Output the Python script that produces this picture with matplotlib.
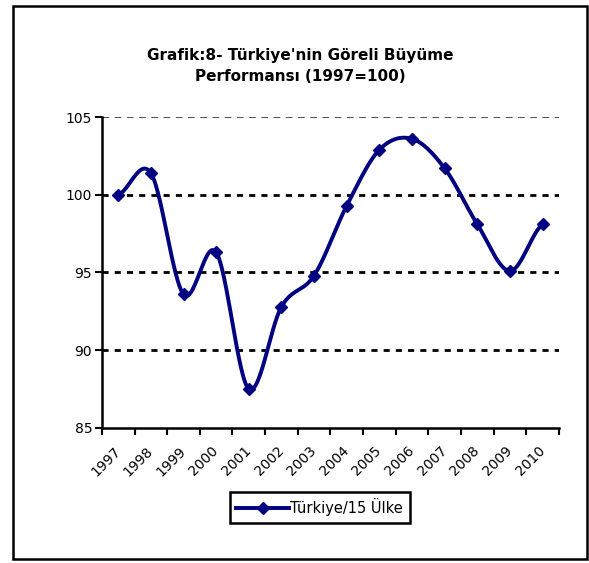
import numpy as np
import matplotlib
matplotlib.use('Agg')
import matplotlib.pyplot as plt
from matplotlib.patches import Rectangle

years = ['1997', '1998', '1999', '2000', '2001', '2002', '2003',
         '2004', '2005', '2006', '2007', '2008', '2009', '2010']
values = [100.0, 101.4, 93.6, 96.3, 87.5, 92.8, 94.8,
          99.3, 102.9, 103.6, 101.7, 98.1, 95.1, 98.1]
series_label = 'Türkiye/15 Ülke'
title = "Grafik:8- Türkiye'nin Göreli Büyüme\nPerformansı (1997=100)"


def smooth_curve(x, y, steps=30):
    # Catmull-Rom style smoothing, like Excel's "smoothed line"
    x = np.asarray(x, float)
    y = np.asarray(y, float)
    px = np.concatenate([[2 * x[0] - x[1]], x, [2 * x[-1] - x[-2]]])
    py = np.concatenate([[y[0]], y, [y[-1]]])
    xs, ys = [], []
    t = np.linspace(0, 1, steps)
    for i in range(1, len(px) - 2):
        p0, p1, p2, p3 = px[i - 1], px[i], px[i + 1], px[i + 2]
        q0, q1, q2, q3 = py[i - 1], py[i], py[i + 1], py[i + 2]
        c1x, c1y = p1 + (p2 - p0) / 6, q1 + (q2 - q0) / 6
        c2x, c2y = p2 - (p3 - p1) / 6, q2 - (q3 - q1) / 6
        b = [(1 - t) ** 3, 3 * (1 - t) ** 2 * t, 3 * (1 - t) * t ** 2, t ** 3]
        xs.append(b[0] * p1 + b[1] * c1x + b[2] * c2x + b[3] * p2)
        ys.append(b[0] * q1 + b[1] * c1y + b[2] * c2y + b[3] * q2)
    return np.concatenate(xs), np.concatenate(ys)


plt.rcParams['font.family'] = ['DejaVu Sans']
fig = plt.figure(figsize=(5.89, 5.63), dpi=100)
ax = fig.add_axes([0.173, 0.240, 0.776, 0.552])

x = np.arange(len(years))
sx, sy = smooth_curve(x, values)
navy = '#000080'
ax.plot(sx, sy, color=navy, linewidth=2.8, solid_capstyle='round', zorder=3)
ax.plot(x, values, linestyle='none', marker='D', markersize=6.5, color=navy, zorder=4)

for yv in [90, 95, 100]:
    ax.axhline(yv, color='black', linewidth=2.0, linestyle=(0, (2.2, 2.2)), zorder=1)
ax.axhline(105, color='#555555', linewidth=0.8, linestyle=(0, (6, 5)), zorder=1)

ax.set_xlim(-0.5, len(years) - 0.5)
ax.set_ylim(85, 105)
ax.set_yticks([85, 90, 95, 100, 105])
ax.set_yticklabels(['85', '90', '95', '100', '105'], fontsize=10)
ax.set_xticks(x)
ax.set_xticklabels(years, rotation=45, ha='right', va='center',
                   rotation_mode='anchor', fontsize=10)
ax.tick_params(axis='x', which='major', length=0, pad=15)
ax.set_xticks(np.arange(-0.5, len(years)), minor=True)
ax.tick_params(axis='x', which='minor', length=5, width=1.5, direction='out')
ax.tick_params(axis='y', length=5, width=1.5, direction='out', pad=2)

for s in ['top', 'right']:
    ax.spines[s].set_visible(False)
for s in ['left', 'bottom']:
    ax.spines[s].set_linewidth(1.8)

fig.text(0.51, 0.883, title, ha='center', va='center', fontsize=11,
         fontweight='bold', linespacing=1.5)

h1, = ax.plot([], [], color=navy, linewidth=2.8, marker='D', markersize=6.5)
leg = fig.legend([h1], [series_label], loc='center', bbox_to_anchor=(0.543, 0.099),
                 fontsize=10.5, frameon=True, fancybox=False, framealpha=1,
                 handlelength=3.6, handletextpad=0.1, borderpad=0.45)
leg.get_frame().set_edgecolor('black')
leg.get_frame().set_linewidth(1.8)

fig.patches.append(Rectangle((13 / 589, 1 - 559 / 563), 574 / 589, 553 / 563,
                             transform=fig.transFigure, fill=False,
                             edgecolor='black', linewidth=1.8))

plt.savefig('out.png', dpi=100)
plt.close()
